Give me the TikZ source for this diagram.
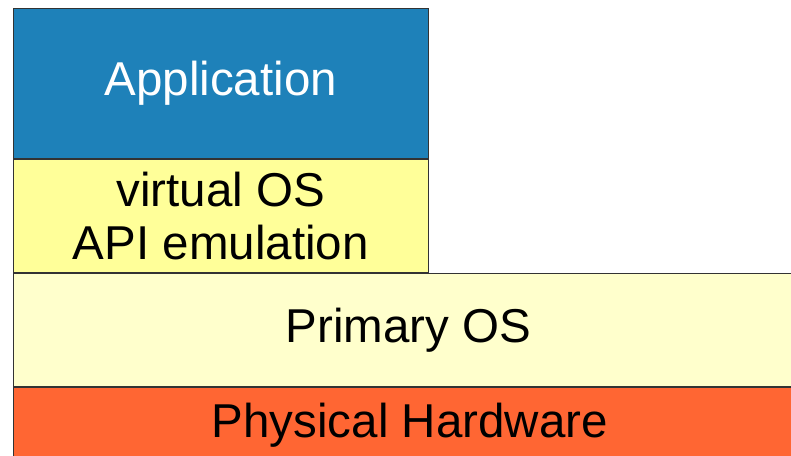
\documentclass[tikz,border=0pt]{standalone}
\usepackage{fontspec}
\setmainfont{Liberation Sans}
\usetikzlibrary{positioning}

\tikzset{
  layer/.style={draw=black!80, line width=1.1pt, anchor=north west, inner sep=0pt,
    align=center, font=\fontsize{47.5}{53}\selectfont},
}

\begin{document}
\begin{tikzpicture}[x=1pt,y=-1pt]
        %colores
        \colorlet{appblue}{rgb,255:red,30;green,129;blue,185}
        \colorlet{virtyellow}{rgb,255:red,255;green,255;blue,153}
        \colorlet{primyellow}{rgb,255:red,255;green,255;blue,204}
        \colorlet{hworange}{rgb,255:red,255;green,102;blue,51}

        % marco
        \useasboundingbox (0,0) rectangle (791,455);
        \clip (0,0) rectangle (791,455);

        % capas de arriba
        \node[layer, fill=appblue, text=white, minimum width=415.5pt, minimum height=150.5pt] (app) at (12.5,7.5) {Application};
        \node[layer, fill=virtyellow, minimum width=415.5pt, minimum height=112.5pt] (virt) at (app.south west) {virtual OS\\API emulation};

        % capas de abajo
        \node[layer, fill=primyellow, minimum width=791pt, minimum height=113pt] (prim) at (virt.south west) {Primary OS};
        \node[layer, fill=hworange, minimum width=793.5pt, minimum height=76pt] (hw) at (prim.south west) {Physical Hardware};
    \end{tikzpicture}
\end{document}
